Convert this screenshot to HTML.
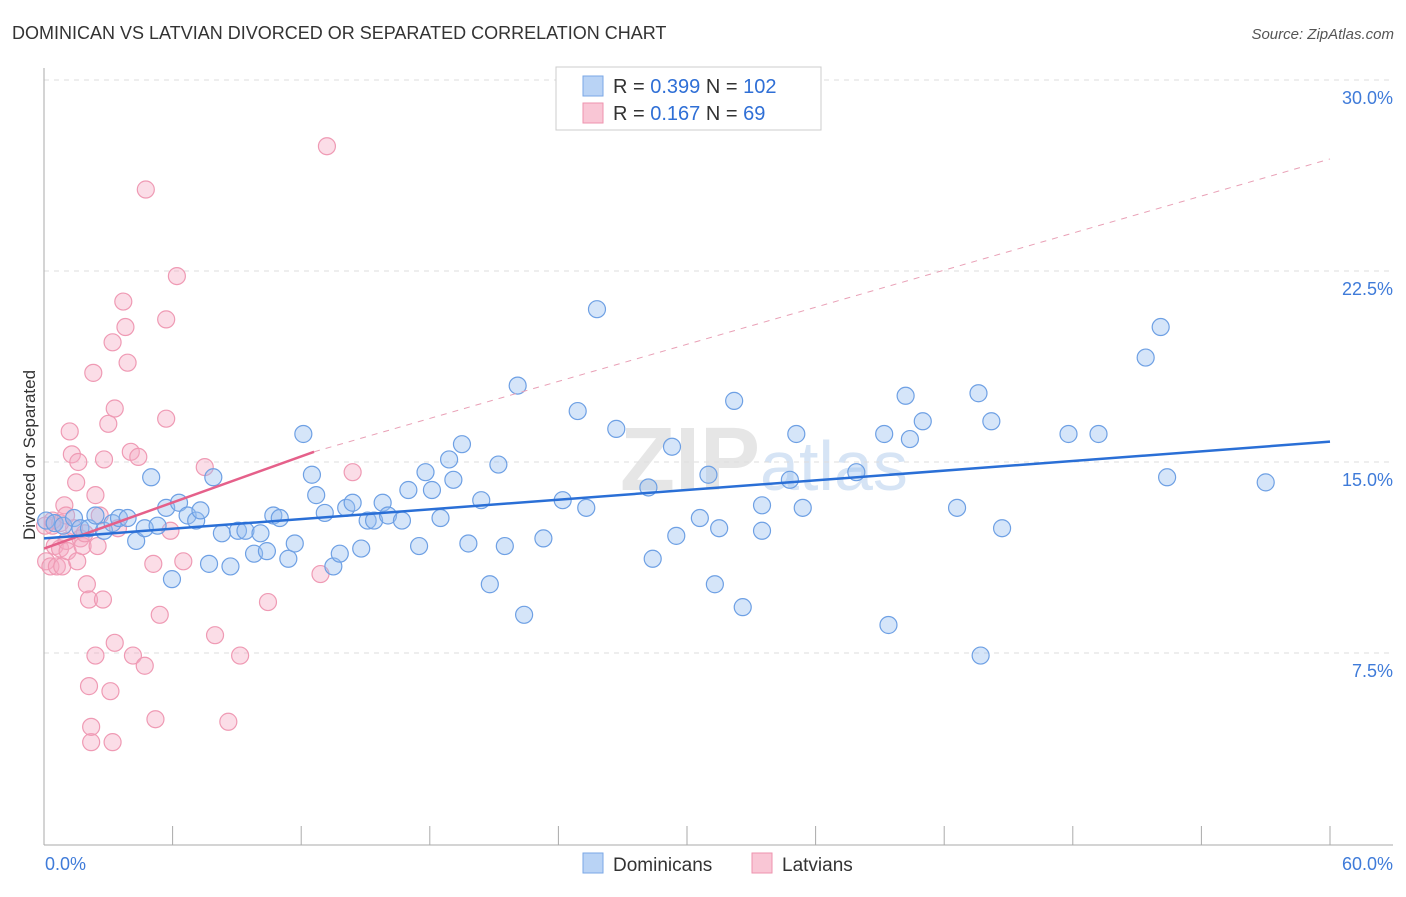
<!DOCTYPE html>
<html><head><meta charset="utf-8"><style>
body{margin:0;background:#fff;font-family:"Liberation Sans",sans-serif;}
svg text{font-family:"Liberation Sans",sans-serif;}
</style></head><body>
<svg width="1406" height="892" id="chart">
<text x="12" y="39" font-size="18" fill="#333">DOMINICAN VS LATVIAN DIVORCED OR SEPARATED CORRELATION CHART</text>
<text x="1394" y="39" font-size="15" fill="#555" font-style="italic" text-anchor="end">Source: ZipAtlas.com</text>
<text x="35" y="455" font-size="17" fill="#333" text-anchor="middle" transform="rotate(-90 35 455)">Divorced or Separated</text>
<text x="620" y="490" font-size="90" fill="#e6e6e6" font-weight="bold" font-family="Liberation Serif">ZIP<tspan fill="#d6e4f5" font-family="Liberation Sans" font-weight="normal" font-size="70">atlas</tspan></text>
<g id="grid"></g><g id="axes"></g><g id="pts"></g><g id="lines"></g>
<g>
<rect x="556" y="67" width="265" height="63" fill="#fff" stroke="#ccc"/>
<rect x="583" y="76" width="20" height="20" fill="#b9d3f5" stroke="#7aa7e6"/>
<rect x="583" y="103" width="20" height="20" fill="#f9c6d5" stroke="#ee93ae"/>
<text x="613" y="93" font-size="20" fill="#333">R = <tspan fill="#2f6fd6">0.399</tspan>   N = <tspan fill="#2f6fd6">102</tspan></text>
<text x="613" y="120" font-size="20" fill="#333">R =  <tspan fill="#2f6fd6">0.167</tspan>   N =   <tspan fill="#2f6fd6">69</tspan></text>
</g>
<g>
<rect x="583" y="853" width="20" height="20" fill="#b9d3f5" stroke="#7aa7e6"/>
<text x="613" y="871" font-size="19" fill="#333">Dominicans</text>
<rect x="752" y="853" width="20" height="20" fill="#f9c6d5" stroke="#ee93ae"/>
<text x="782" y="871" font-size="19" fill="#333">Latvians</text>
</g>
</svg>
<script>
const yTicks=[7.5,15,22.5,30];
const yTickLabels=["7.5%","15.0%","22.5%","30.0%"];
const xTicks=[0,6,12,18,24,30,36,42,48,54,60];
const blueX=[0.1,0.5,0.9,1.4,1.7,2.1,2.4,2.8,3.2,3.5,3.9,4.3,4.7,5.0,5.3,5.7,5.97,6.3,6.7,7.1,7.3,7.7,7.9,8.3,8.7,9.05,9.4,9.8,10.1,10.4,10.7,11.0,11.4,11.7,12.1,12.5,12.7,13.1,13.5,13.8,14.1,14.4,14.8,15.1,15.4,15.8,16.05,16.7,17.0,17.5,17.8,18.1,18.5,18.9,19.1,19.5,19.8,20.4,20.8,21.2,21.5,22.1,22.4,23.3,24.2,24.9,25.3,25.8,26.7,28.4,28.2,29.3,29.5,30.6,31.0,31.3,31.5,32.2,32.6,33.5,33.5,34.8,35.1,35.4,37.9,39.2,39.4,40.2,40.4,41.0,42.6,43.6,43.7,44.2,44.7,47.8,49.2,51.4,52.1,52.4,57.0];
const blueY=[12.7,12.6,12.5,12.8,12.4,12.4,12.9,12.3,12.6,12.8,12.8,11.9,12.4,14.4,12.5,13.2,10.4,13.4,12.9,12.7,13.1,11.0,14.4,12.2,10.9,12.3,12.3,11.4,12.2,11.5,12.9,12.8,11.2,11.8,16.1,14.5,13.7,13.0,10.9,11.4,13.2,13.4,11.6,12.7,12.7,13.4,12.9,12.7,13.9,11.7,14.6,13.9,12.8,15.1,14.3,15.7,11.8,13.5,10.2,14.9,11.7,18.0,9.0,12.0,13.5,17.0,13.2,21.0,16.3,11.2,14.0,15.6,12.1,12.8,14.5,10.2,12.4,17.4,9.3,13.3,12.3,14.3,16.1,13.2,14.6,16.1,8.6,17.6,15.9,16.6,13.2,17.7,7.4,16.6,12.4,16.1,16.1,19.1,20.3,14.4,14.2];
const pinkX=[0.1,0.3,0.4,0.5,0.6,0.75,0.85,0.95,1.05,1.1,1.2,1.3,1.4,1.5,1.55,1.6,1.7,1.8,1.9,2.0,2.1,2.1,2.2,2.2,2.3,2.4,2.4,2.5,2.6,2.75,2.8,3.0,3.1,3.2,3.2,3.3,3.3,3.45,3.7,3.8,3.9,4.05,4.15,4.4,4.7,4.75,5.1,5.2,5.4,5.7,5.7,5.9,6.2,6.5,7.5,7.98,8.6,9.15,10.45,12.9,13.2,14.4,0.05,0.4,0.75,1.03];
const pinkY=[11.1,10.9,12.5,11.7,10.9,11.6,10.9,13.3,11.9,11.5,16.2,15.3,12.4,14.2,11.1,15.0,12.0,11.7,12.2,10.2,9.6,6.2,4.0,4.6,18.5,7.4,13.7,11.7,12.9,9.6,15.1,16.5,6.0,19.7,4.0,7.9,17.1,12.4,21.3,20.3,18.9,15.4,7.4,15.2,7.0,25.7,11.0,4.9,9.0,20.6,16.7,12.3,22.3,11.1,14.8,8.2,4.8,7.4,9.5,10.6,27.4,14.6,12.5,12.7,12.6,12.9];
const blueLine=[0,12.0,60,15.8];
const pinkLine=[0,11.6,12.6,15.4];
const pinkDash=[12.6,15.4,60,26.9];
const NS="http://www.w3.org/2000/svg";
const X=v=>44+v/60*1286, Y=v=>844-v/30*764;
function mk(tag,at,parent){const e=document.createElementNS(NS,tag);for(const k in at)e.setAttribute(k,at[k]);document.getElementById(parent).appendChild(e);return e;}
yTicks.forEach((t,i)=>{
 const l=mk('line',{x1:44,x2:1393,y1:Y(t),y2:Y(t),stroke:'#ddd','stroke-dasharray':'5,5'},'grid');
 
 
 const tx=mk('text',{x:1393,y:Y(t)+24,'font-size':18,fill:'#3f7bd9','text-anchor':'end'},'grid');
 tx.textContent=yTickLabels[i];
 
 
});
const ax=mk('line',{x1:44,x2:44,y1:68,y2:845,stroke:'#aaa'},'axes');


const bx=mk('line',{x1:44,x2:1393,y1:845,y2:845,stroke:'#aaa'},'axes');


xTicks.forEach(t=>{
 const l=mk('line',{x1:X(t),x2:X(t),y1:826,y2:845,stroke:'#aaa'},'axes');
 
 
});
[["0.0%",45,'start'],["60.0%",1393,'end']].forEach(a=>{
 const tx=mk('text',{x:a[1],y:870,'font-size':18,fill:'#3f7bd9','text-anchor':a[2]},'axes');
 tx.textContent=a[0];
 
 
});
pinkX.forEach((v,i)=>{
 const c=mk('circle',{cx:X(v),cy:Y(pinkY[i]),r:8.5,fill:'rgba(246,170,195,0.4)',stroke:'#ef9ab4','stroke-width':1.2},'pts');
 
 
});
blueX.forEach((v,i)=>{
 const c=mk('circle',{cx:X(v),cy:Y(blueY[i]),r:8.5,fill:'rgba(150,190,240,0.4)',stroke:'#6ea0e4','stroke-width':1.2},'pts');
 
 
});
const pd=mk('line',{x1:X(pinkDash[0]),y1:Y(pinkDash[1]),x2:X(pinkDash[2]),y2:Y(pinkDash[3]),stroke:'#e9a0b6','stroke-dasharray':'6,6','stroke-width':1},'lines');


const pl=mk('line',{x1:X(pinkLine[0]),y1:Y(pinkLine[1]),x2:X(pinkLine[2]),y2:Y(pinkLine[3]),stroke:'#e5608a','stroke-width':2.5},'lines');


const bl=mk('line',{x1:X(blueLine[0]),y1:Y(blueLine[1]),x2:X(blueLine[2]),y2:Y(blueLine[3]),stroke:'#2a6fd6','stroke-width':2.5},'lines');


</script>
</body></html>
